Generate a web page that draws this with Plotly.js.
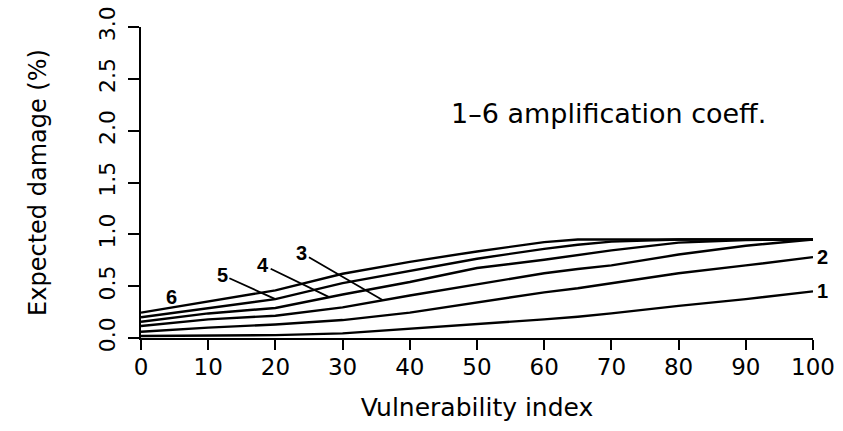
<!DOCTYPE html>
<html>
<head>
<meta charset="utf-8">
<script src="https://cdn.plot.ly/plotly-3.0.1.min.js"></script>
<style>html,body{margin:0;padding:0;background:#fff;}#chart{width:843px;height:431px;}</style>
</head>
<body>
<div id="chart"></div>
<script>
// Vulnerability index (x)
const vulnIndex = [0, 10, 20, 30, 40, 50, 60, 65, 70, 80, 90, 100];
// Expected damage (%) for amplification coefficients 1..6
const coeff1 = [0.02, 0.022, 0.028, 0.045, 0.088, 0.135, 0.18, 0.205, 0.237, 0.31, 0.375, 0.45];
const coeff2 = [0.06, 0.10, 0.13, 0.173, 0.245, 0.343, 0.44, 0.48, 0.526, 0.625, 0.70, 0.78];
const coeff3 = [0.115, 0.18, 0.215, 0.295, 0.41, 0.516, 0.625, 0.665, 0.70, 0.805, 0.89, 0.95];
const coeff4 = [0.157, 0.237, 0.29, 0.42, 0.54, 0.675, 0.755, 0.80, 0.845, 0.92, 0.945, 0.95];
const coeff5 = [0.20, 0.285, 0.375, 0.53, 0.65, 0.765, 0.86, 0.90, 0.93, 0.95, 0.95, 0.95];
const coeff6 = [0.245, 0.35, 0.46, 0.62, 0.735, 0.835, 0.925, 0.95, 0.95, 0.95, 0.95, 0.95];
const seriesNames = ['1', '2', '3', '4', '5', '6'];
const xTickVals = [0, 10, 20, 30, 40, 50, 60, 70, 80, 90, 100];
const yTickVals = [0, 0.5, 1.0, 1.5, 2.0, 2.5, 3.0];
const yTickText = ['0.0', '0.5', '1.0', '1.5', '2.0', '2.5', '3.0'];

const allSeries = [coeff1, coeff2, coeff3, coeff4, coeff5, coeff6];

function interp(xs, ys, x) {
  for (let i = 0; i < xs.length - 1; i++) {
    if (x >= xs[i] && x <= xs[i + 1]) {
      const t = (x - xs[i]) / (xs[i + 1] - xs[i]);
      return ys[i] + t * (ys[i + 1] - ys[i]);
    }
  }
  return ys[ys.length - 1];
}

const traces = allSeries.map((ys, i) => ({
  x: vulnIndex, y: ys, type: 'scatter', mode: 'lines', name: seriesNames[i],
  line: {color: '#000', width: 2.4}, showlegend: false, hoverinfo: 'skip'
}));

const labelFont = {family: 'Liberation Sans, Arial, sans-serif', size: 20, color: '#000', weight: 'bold'};
const last = vulnIndex.length - 1;
const annotations = [
  {text: '1–6 amplification coeff.', xref: 'x', yref: 'y', x: 69.5, y: 2.17, showarrow: false,
   font: {family: 'DejaVu Sans, sans-serif', size: 27, color: '#000'}},
  // leader-line labels
  {text: '5', x: 20, y: interp(vulnIndex, coeff5, 20), xref: 'x', yref: 'y', showarrow: true,
   arrowhead: 0, arrowwidth: 1.8, arrowcolor: '#000', standoff: 0, ax: -53, ay: -24, font: labelFont},
  {text: '4', x: 28, y: interp(vulnIndex, coeff4, 28), xref: 'x', yref: 'y', showarrow: true,
   arrowhead: 0, arrowwidth: 1.8, arrowcolor: '#000', standoff: 0, ax: -66, ay: -32, font: labelFont},
  {text: '3', x: 36, y: interp(vulnIndex, coeff3, 36), xref: 'x', yref: 'y', showarrow: true,
   arrowhead: 0, arrowwidth: 1.8, arrowcolor: '#000', standoff: 0, ax: -81, ay: -47, font: labelFont},
  {text: '6', x: 4.6, y: interp(vulnIndex, coeff6, 4.6), xref: 'x', yref: 'y', showarrow: false,
   yshift: 11, font: labelFont},
  {text: '2', x: vulnIndex[last], y: coeff2[last], xref: 'x', yref: 'y', showarrow: false,
   xanchor: 'left', xshift: 2, font: labelFont},
  {text: '1', x: vulnIndex[last], y: coeff1[last], xref: 'x', yref: 'y', showarrow: false,
   xanchor: 'left', xshift: 2, font: labelFont}
];

const layout = {
  width: 843, height: 431,
  margin: {l: 141, r: 30, t: 27, b: 93},
  paper_bgcolor: '#fff', plot_bgcolor: '#fff',
  showlegend: false,
  xaxis: {
    range: [0, 100], tickvals: xTickVals, ticks: 'outside', ticklen: 10, tickwidth: 2, tickcolor: '#000',
    showline: true, linecolor: '#000', linewidth: 2, showgrid: false, zeroline: false,
    ticklabelstandoff: -3,
    tickfont: {family: 'DejaVu Sans, sans-serif', size: 23, color: '#000'},
    title: {text: 'Vulnerability index', font: {family: 'DejaVu Sans, sans-serif', size: 25, color: '#000'}, standoff: 20}
  },
  yaxis: {
    range: [0, 3.0], tickvals: yTickVals, ticktext: yTickText, ticks: 'outside', ticklen: 11, tickwidth: 2, tickcolor: '#000',
    showline: true, linecolor: '#000', linewidth: 2, showgrid: false, zeroline: false, tickangle: -90,
    ticklabelstandoff: 4,
    tickfont: {family: 'DejaVu Sans, sans-serif', size: 22, color: '#000'},
    title: {text: 'Expected damage (%)', font: {family: 'DejaVu Sans, sans-serif', size: 24, color: '#000'}, standoff: 42}
  },
  annotations: annotations
};

Plotly.newPlot('chart', traces, layout, {displayModeBar: false, staticPlot: true});
</script>
</body>
</html>
